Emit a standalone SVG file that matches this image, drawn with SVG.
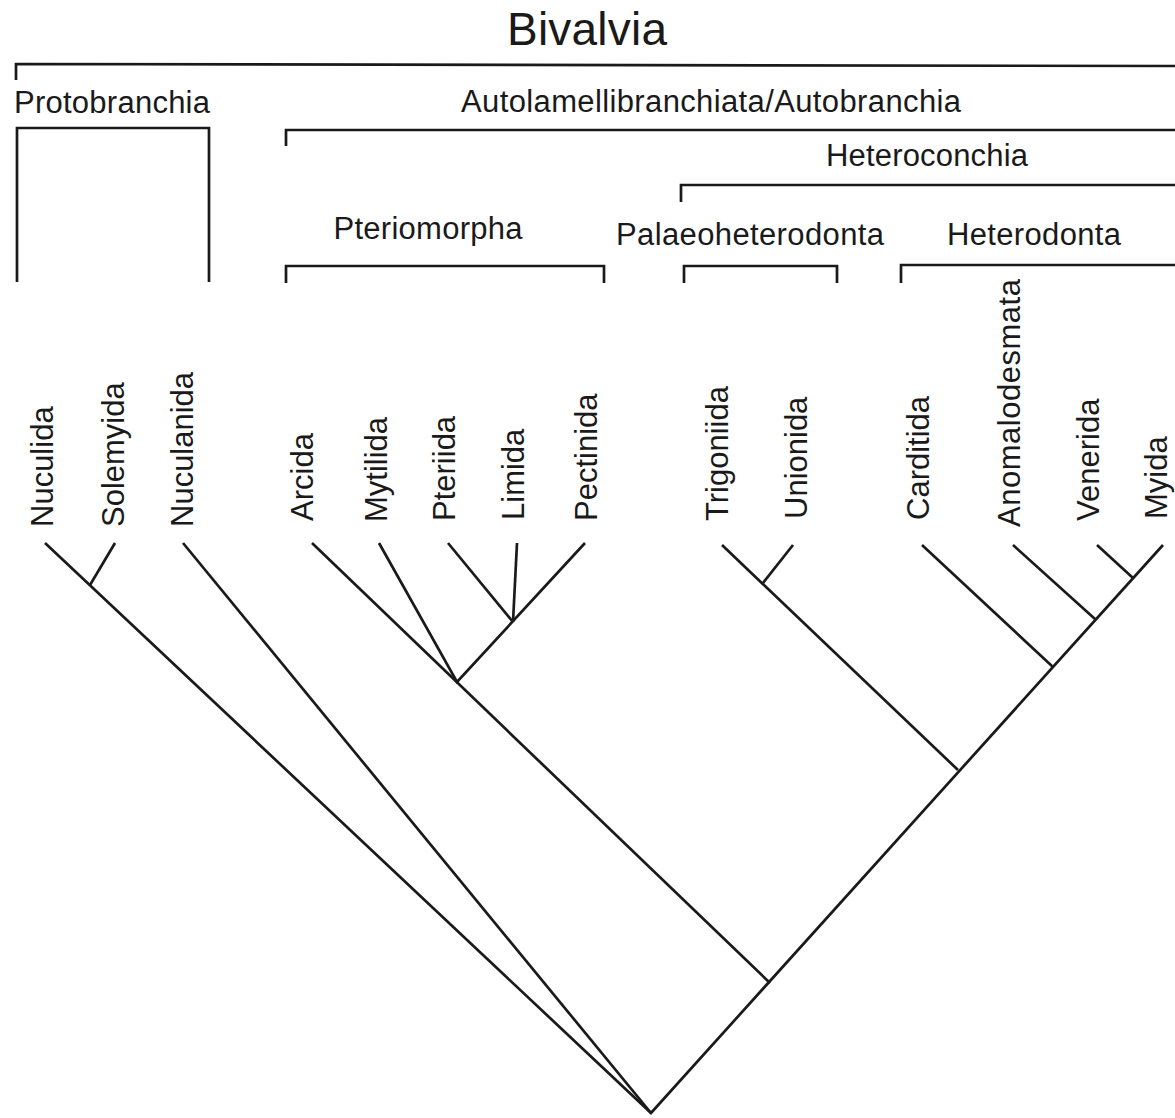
<svg xmlns="http://www.w3.org/2000/svg" width="1175" height="1118" viewBox="0 0 1175 1118">
<style>
text{font-family:"Liberation Sans",Arial,sans-serif;fill:#1a1a1a}
.hd{font-size:31px;text-anchor:middle}
.lf{font-size:31px}
.br,.ln{fill:none;stroke:#1a1a1a;stroke-width:2.7;stroke-linecap:butt;stroke-linejoin:miter}
</style>
<rect width="1175" height="1118" fill="#fff"/>
<g id="clade-bivalvia">
<text x="587" y="45" style="font-size:46px;text-anchor:middle" textLength="160">Bivalvia</text>
<path class="br" d="M16,80 V64 L1175,66"/>
</g>
<g id="clade-protobranchia">
<text x="112" y="113" class="hd" textLength="196">Protobranchia</text>
<path class="br" d="M17,282 V128 H209 V282"/>
</g>
<g id="clade-autolamellibranchiata">
<text x="711" y="112" class="hd" textLength="500">Autolamellibranchiata/Autobranchia</text>
<path class="br" d="M286,146 V130 H1175"/>
</g>
<g id="clade-heteroconchia">
<text x="927" y="166" class="hd" textLength="202">Heteroconchia</text>
<path class="br" d="M681,202 V185 H1175"/>
</g>
<g id="clade-pteriomorpha">
<text x="428" y="239" class="hd" textLength="189">Pteriomorpha</text>
<path class="br" d="M286,283 V266 H604 V283"/>
</g>
<g id="clade-palaeoheterodonta">
<text x="750" y="245" class="hd" textLength="268">Palaeoheterodonta</text>
<path class="br" d="M684,283 V266 H837 V283"/>
</g>
<g id="clade-heterodonta">
<text x="1034" y="245" class="hd" textLength="174">Heterodonta</text>
<path class="br" d="M901,283 V265 H1175"/>
</g>
<g id="taxon-nuculida"><text class="lf" transform="translate(53,527) rotate(-90)">Nuculida</text></g>
<g id="taxon-solemyida"><text class="lf" transform="translate(124,527) rotate(-90)">Solemyida</text></g>
<g id="taxon-nuculanida"><text class="lf" transform="translate(193,527) rotate(-90)">Nuculanida</text></g>
<g id="taxon-arcida"><text class="lf" transform="translate(313,521) rotate(-90)">Arcida</text></g>
<g id="taxon-mytilida"><text class="lf" transform="translate(387,522) rotate(-90)">Mytilida</text></g>
<g id="taxon-pteriida"><text class="lf" transform="translate(455,521) rotate(-90)">Pteriida</text></g>
<g id="taxon-limida"><text class="lf" transform="translate(524,520) rotate(-90)">Limida</text></g>
<g id="taxon-pectinida"><text class="lf" transform="translate(597,521) rotate(-90)">Pectinida</text></g>
<g id="taxon-trigoniida"><text class="lf" transform="translate(728,521) rotate(-90)">Trigoniida</text></g>
<g id="taxon-unionida"><text class="lf" transform="translate(807,519) rotate(-90)">Unionida</text></g>
<g id="taxon-carditida"><text class="lf" transform="translate(929,520) rotate(-90)">Carditida</text></g>
<g id="taxon-anomalodesmata"><text class="lf" transform="translate(1020,527) rotate(-90)" textLength="248">Anomalodesmata</text></g>
<g id="taxon-venerida"><text class="lf" transform="translate(1099,521) rotate(-90)">Venerida</text></g>
<g id="taxon-myida"><text class="lf" transform="translate(1167,519) rotate(-90)">Myida</text></g>
<g id="connectors">
<path class="ln" d="M45,543 L651,1113 L1163,545"/>
<path class="ln" d="M115,543 L90,585"/>
<path class="ln" d="M183,543 L651,1113"/>
<path class="ln" d="M312,543 L770,983"/>
<path class="ln" d="M379,543 L457,682 L585,543"/>
<path class="ln" d="M448,543 L513,622"/>
<path class="ln" d="M517,543 L513,622"/>
<path class="ln" d="M722,545 L958,770"/>
<path class="ln" d="M793,545 L763,583"/>
<path class="ln" d="M922,545 L1053,667"/>
<path class="ln" d="M1013,545 L1095,619"/>
<path class="ln" d="M1097,545 L1133,578"/>
</g>
</svg>
